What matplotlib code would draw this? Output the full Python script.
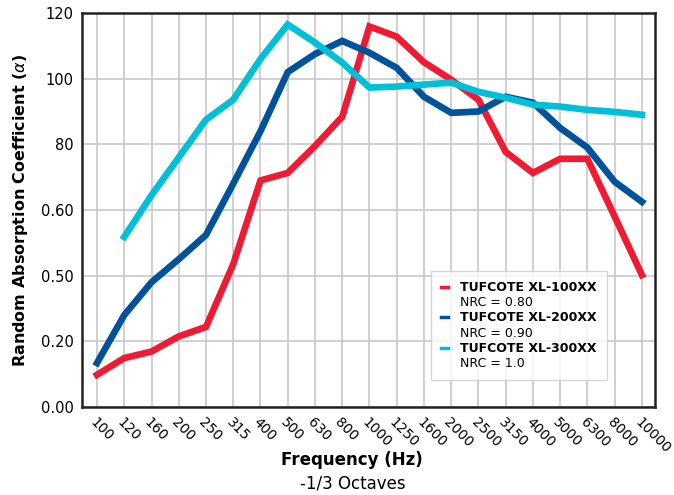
import matplotlib.pyplot as plt
from matplotlib.lines import Line2D

plt.rcParams['font.family'] = ['DejaVu Sans']

# 1/3 octave bands
freqs = ["100", "120", "160", "200", "250", "315", "400", "500", "630", "800",
         "1000", "1250", "1600", "2000", "2500", "3150", "4000", "5000", "6300",
         "8000", "10000"]

xl100 = [9.8, 14.9, 16.9, 21.5, 24.4, 43.5, 69.0, 71.3, 79.5, 88.4,
         115.9, 112.8, 105.0, 99.7, 93.6, 77.7, 71.3, 75.6, 75.6, 58.0, 40.2]
xl200 = [13.4, 28.0, 38.0, 45.0, 52.4, 68.0, 84.0, 102.0, 107.5, 111.5,
         107.9, 103.3, 94.5, 89.6, 90.0, 94.5, 92.7, 85.0, 79.0, 68.6, 62.5]
# XL-300XX starts at 120 Hz
xl300_freqs = freqs[1:]
xl300 = [51.8, 64.5, 76.0, 87.5, 93.6, 106.0, 116.5, 111.0, 104.9, 97.3,
         97.6, 98.2, 98.8, 96.0, 94.2, 92.1, 91.5, 90.5, 89.9, 89.0]

names = ["TUFCOTE XL-100XX", "TUFCOTE XL-200XX", "TUFCOTE XL-300XX"]
nrc = ["NRC = 0.80", "NRC = 0.90", "NRC = 1.0"]
colors = ["#EE1B33", "#00529B", "#00BFD6"]

yticks = [0, 20, 40, 60, 80, 100, 120]
ytick_labels = ["0.00", "0.20", "0.50", "0.60", "80", "100", "120"]

fig = plt.figure(figsize=(6.74, 4.95), dpi=100)
ax = fig.add_axes([0.1217, 0.1778, 0.8501, 0.7959])

xpos = {f: i for i, f in enumerate(freqs)}
ax.plot([xpos[f] for f in freqs], xl100, color=colors[0], lw=4.8, solid_joinstyle='miter')
ax.plot([xpos[f] for f in freqs], xl200, color=colors[1], lw=4.8, solid_joinstyle='miter')
ax.plot([xpos[f] for f in xl300_freqs], xl300, color=colors[2], lw=4.8, solid_joinstyle='miter')

ax.set_xlim(-0.55, len(freqs) - 0.52)
ax.set_ylim(0, 120)
ax.set_xticks(range(len(freqs)))
ax.set_xticklabels(freqs, rotation=-45, ha='left', va='top', rotation_mode='anchor',
                   fontsize=10)
ax.set_yticks(yticks)
ax.set_yticklabels(ytick_labels, fontsize=10.5)
ax.tick_params(length=0, pad=6)
ax.tick_params(axis='x', pad=6)
ax.grid(True, color='#c8c8c8', lw=1.2)
ax.set_axisbelow(True)
for s in ax.spines.values():
    s.set_linewidth(1.8)
    s.set_color('#222222')

ax.set_ylabel(r"Random Absorption Coefficient ($\alpha$)", fontsize=11.5,
              fontweight='bold', labelpad=8)
fig.text(352 / 674, 1 - 460 / 495, "Frequency (Hz)", ha='center', va='center',
         fontsize=12, fontweight='bold')
fig.text(353 / 674, 1 - 484 / 495, "-1/3 Octaves", ha='center', va='center', fontsize=12)

handles = []
labels = []
for name, n, c in zip(names, nrc, colors):
    handles.append(Line2D([], [], color=c, lw=2.5))
    labels.append(name)
    handles.append(Line2D([], [], color='none'))
    labels.append(n)
leg = ax.legend(handles, labels, loc='lower right', bbox_to_anchor=(0.916, 0.068),
                fontsize=9, handlelength=0.5, handletextpad=1.0, labelspacing=0.18,
                frameon=True, fancybox=False, borderpad=0.8, borderaxespad=0)
leg.get_frame().set_edgecolor('#cccccc')
leg.get_frame().set_linewidth(1.0)
for i, t in enumerate(leg.get_texts()):
    if i % 2 == 0:
        t.set_fontweight('bold')

fig.savefig("out.png", dpi=100)
